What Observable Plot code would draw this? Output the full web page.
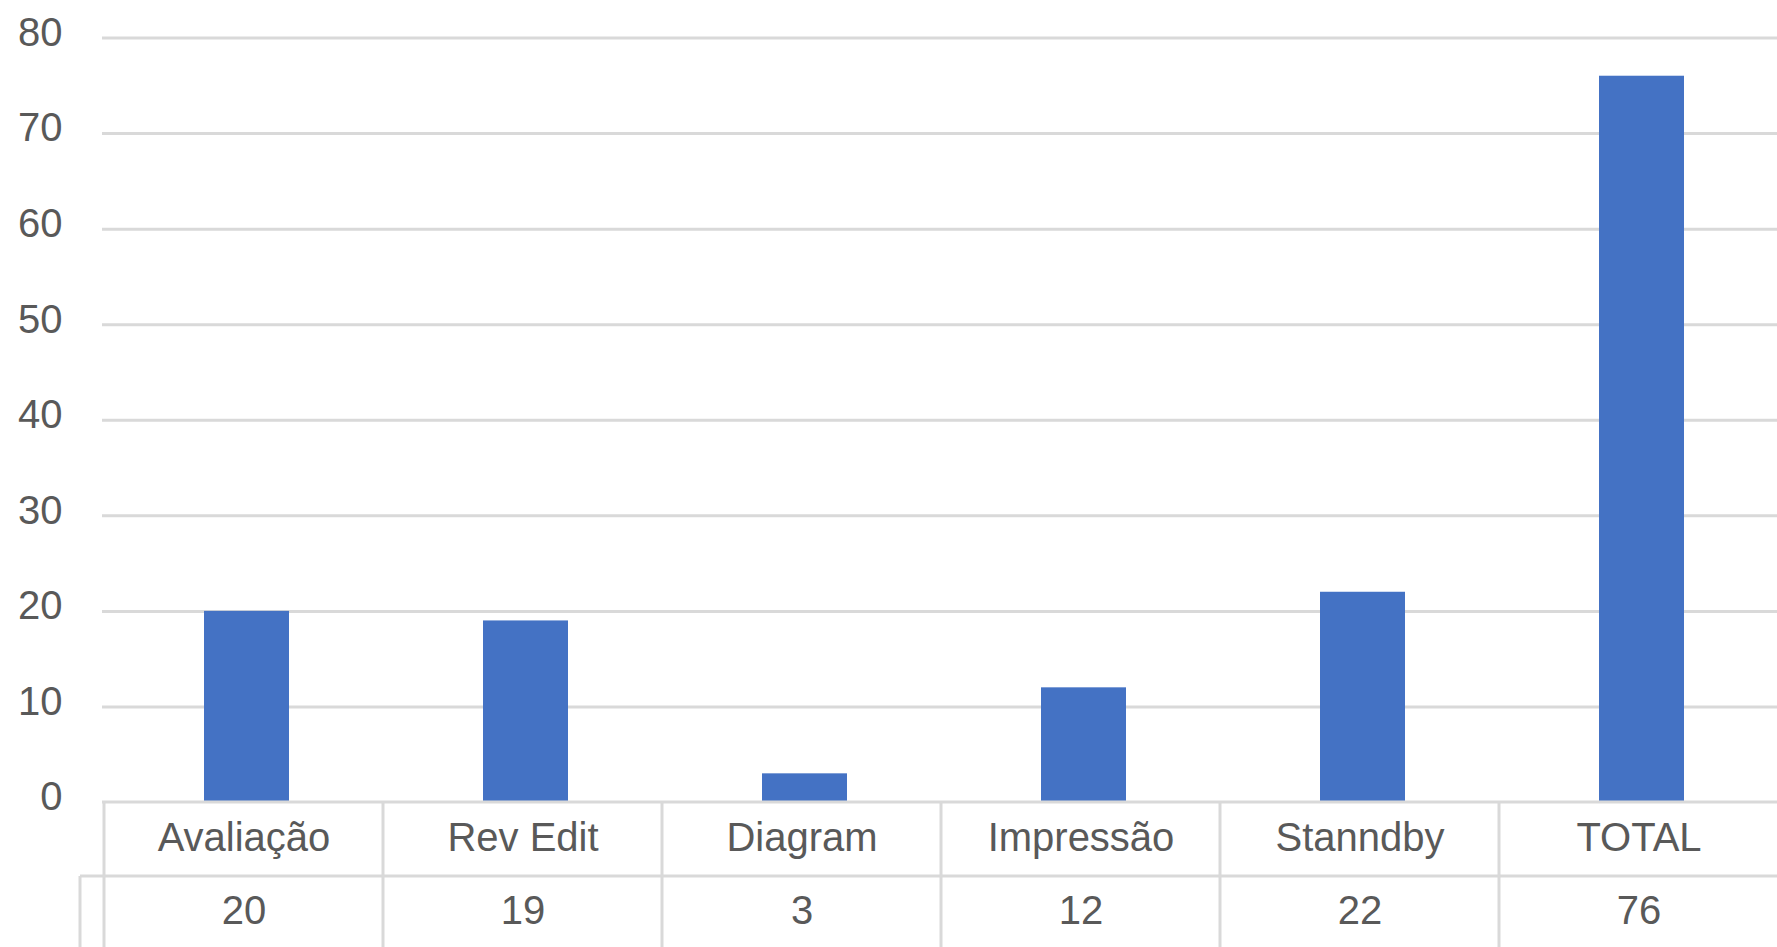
<!DOCTYPE html>
<html>
<head>
<meta charset="utf-8">
<script src="https://cdn.jsdelivr.net/npm/d3@7"></script>
<script src="https://cdn.jsdelivr.net/npm/@observablehq/plot@0.6"></script>
<style>
  html, body { margin: 0; padding: 0; background: #fff; }
  #chart svg { display: block; }
</style>
</head>
<body>
<div id="chart"></div>
<script>
const categories = ["Avaliação", "Rev Edit", "Diagram", "Impressão", "Stanndby", "TOTAL"];
const values = [20, 19, 3, 12, 22, 76];
const yTicks = [0, 10, 20, 30, 40, 50, 60, 70, 80];

const data = categories.map((c, i) => ({category: c, value: values[i]}));

const gridColor = "#d9d9d9";
const textColor = "#595959";
const rowHeight = 74;

// Data-table grid under the plot, positioned from the x scale
function tableGrid(index, scales, vals, dims) {
  const x = scales.x;
  const top = dims.height - dims.marginBottom;
  const bottom = dims.height;
  const left = dims.marginLeft;
  const right = dims.width;
  const g = d3.create("svg:g")
    .attr("stroke", gridColor)
    .attr("stroke-width", 3)
    .attr("fill", "none");
  g.append("line").attr("x1", left).attr("x2", right).attr("y1", top).attr("y2", top);
  g.append("line").attr("x1", left - 22).attr("x2", right).attr("y1", top + rowHeight).attr("y2", top + rowHeight);
  g.append("line").attr("x1", left - 22).attr("x2", left - 22).attr("y1", top + rowHeight).attr("y2", bottom);
  for (const c of categories) {
    const xx = x(c);
    g.append("line").attr("x1", xx).attr("x2", xx).attr("y1", top).attr("y2", bottom);
  }
  return g.node();
}

const chart = Plot.plot({
  width: 1777,
  height: 947,
  marginTop: 37.5,
  marginBottom: 145,
  marginLeft: 102,
  marginRight: -3,
  style: {fontFamily: "'Liberation Sans', Arial, sans-serif", fontSize: "40px", color: textColor, background: "#fff", overflow: "hidden"},
  x: {type: "band", domain: categories, padding: 0, axis: null},
  y: {domain: [0, 80], ticks: yTicks},
  marks: [
    Plot.ruleY(yTicks.filter(t => t > 0), {stroke: gridColor, strokeWidth: 3}),
    Plot.axisY({ticks: yTicks, tickSize: 0, tickPadding: 40, dy: -5, fontSize: 40, fill: textColor, label: null}),
    Plot.barY(data, {x: "category", y: "value", fill: "#4472c4", insetLeft: 100, insetRight: 94}),
    Plot.text(categories, {x: d => d, text: d => d, frameAnchor: "bottom", dy: 36, lineAnchor: "middle", fill: textColor, fontSize: 40}),
    Plot.text(data, {x: "category", text: d => String(d.value), frameAnchor: "bottom", dy: 109, lineAnchor: "middle", fill: textColor, fontSize: 40}),
    Plot.ruleY([0], {render: tableGrid})
  ]
});

document.getElementById("chart").appendChild(chart);
</script>
</body>
</html>
